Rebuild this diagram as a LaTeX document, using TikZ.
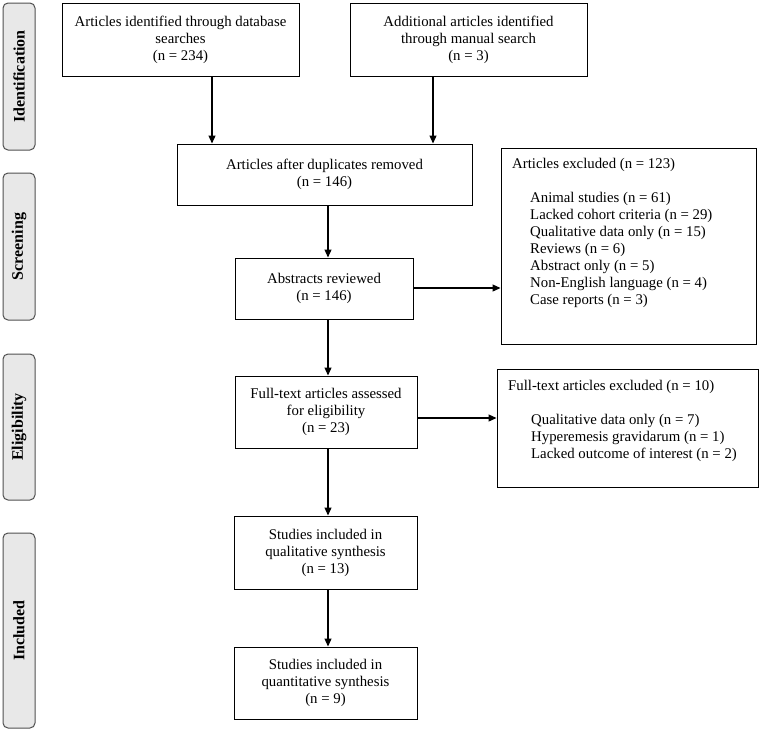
\documentclass[tikz,border=0pt]{standalone}
\usepackage{fontspec}
\setmainfont{Liberation Serif}
\usetikzlibrary{arrows.meta}
\definecolor{sidefill}{HTML}{E8E8E8}
\definecolor{sidedraw}{HTML}{505050}
\begin{document}
\begin{tikzpicture}[x=1pt,y=-1pt,
  box/.style={draw=black, line width=1pt, fill=white, align=center, inner sep=2pt,
    font=\fontsize{14.8}{17}\selectfont},
  sidebox/.style={draw=sidedraw, line width=1pt, fill=sidefill, rounded corners=5pt,
    minimum width=32pt, inner sep=0pt},
  sidetext/.style={rotate=90, font=\fontsize{16}{18}\selectfont\bfseries},
  listtext/.style={align=left, inner sep=0pt, anchor=north west,
    font=\fontsize{14.8}{17}\selectfont},
  arr/.style={line width=1.2pt, -{Triangle[length=8pt,width=7pt]}}
]
\useasboundingbox (0,0) rectangle (760,732);
\fill[white] (0,0) rectangle (760,732);

% side labels
\node[sidebox, minimum height=147pt] (sid) at (19,76.5) {};
\node[sidetext] (sidt) at (sid.center) {Identification};
\node[sidebox, minimum height=147pt] (scr) at (19,246.5) {};
\node[sidetext] (scrt) at (scr.center) {Screening};
\node[sidebox, minimum height=146pt] (eli) at (19,427) {};
\node[sidetext] (elit) at (eli.center) {Eligibility};
\node[sidebox, minimum height=195pt] (inc) at (19,630.5) {};
\node[sidetext] (inct) at (inc.center) {Included};

% main boxes
\node[box, minimum width=237pt, minimum height=73pt] (A) at (180.5,39.5)
  {Articles identified through database\\searches\\(n = 234)};
\node[box, minimum width=237pt, minimum height=73pt] (B) at (468.5,39.5)
  {Additional articles identified\\through manual search\\(n = 3)};
\node[box, minimum width=295pt, minimum height=61pt] (C) at (324.5,174.5)
  {Articles after duplicates removed\\(n = 146)};
\node[box, minimum width=178pt, minimum height=61pt] (D) at (324,288.5)
  {Abstracts reviewed\\(n = 146)};
\node[box, minimum width=182pt, minimum height=72pt] (E) at (326,412)
  {Full-text articles assessed\\for eligibility\\(n = 23)};
\node[box, minimum width=183pt, minimum height=73pt] (F) at (325.5,552.5)
  {Studies included in\\qualitative synthesis\\(n = 13)};
\node[box, minimum width=183pt, minimum height=72pt] (G) at (325.5,683)
  {Studies included in\\quantitative synthesis\\(n = 9)};

% exclusion boxes
\node[box, minimum width=255pt, minimum height=196pt] (X1) at (628.5,246) {};
\node[listtext] (X1t) at (512,158)
  {Articles excluded (n = 123)\\[17pt]
   \hspace*{18pt}Animal studies (n = 61)\\
   \hspace*{18pt}Lacked cohort criteria (n = 29)\\
   \hspace*{18pt}Qualitative data only (n = 15)\\
   \hspace*{18pt}Reviews (n = 6)\\
   \hspace*{18pt}Abstract only (n = 5)\\
   \hspace*{18pt}Non-English language (n = 4)\\
   \hspace*{18pt}Case reports (n = 3)};
\node[box, minimum width=261pt, minimum height=118pt] (X2) at (627.5,428) {};
\node[listtext] (X2t) at (508,380)
  {Full-text articles excluded (n = 10)\\[17pt]
   \hspace*{23pt}Qualitative data only (n = 7)\\
   \hspace*{23pt}Hyperemesis gravidarum (n = 1)\\
   \hspace*{23pt}Lacked outcome of interest (n = 2)};

% connector anchors
\coordinate (ax) at (212,0);
\coordinate (bx) at (433,0);
\coordinate (mx) at (328,0);
\coordinate (y1) at (0,288);
\coordinate (y2) at (0,418);

% connectors
\draw[arr] (A.south -| ax) -- (C.north -| ax);
\draw[arr] (B.south -| bx) -- (C.north -| bx);
\draw[arr] (C.south -| mx) -- (D.north -| mx);
\draw[arr] (D.south -| mx) -- (E.north -| mx);
\draw[arr] (E.south -| mx) -- (F.north -| mx);
\draw[arr] (F.south -| mx) -- (G.north -| mx);
\draw[arr] (D.east |- y1) -- (X1.west |- y1);
\draw[arr] (E.east |- y2) -- (X2.west |- y2);
\end{tikzpicture}
\end{document}
